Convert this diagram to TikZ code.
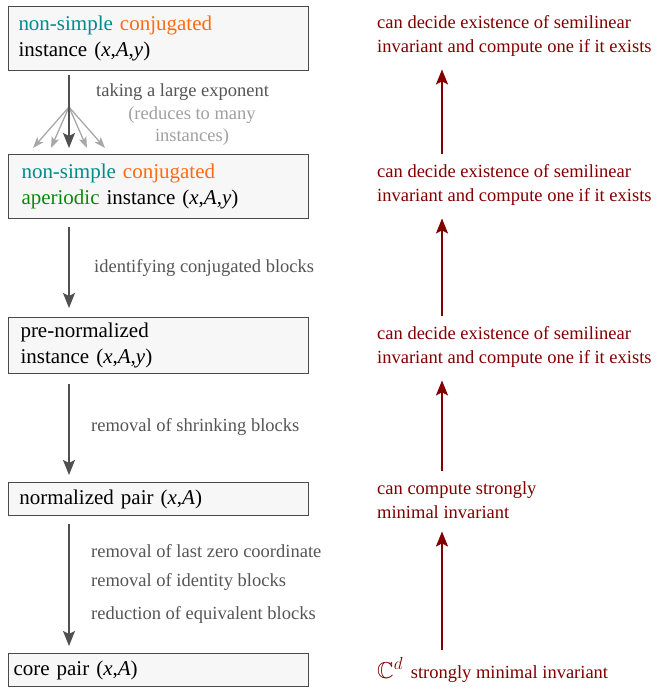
\documentclass[tikz,border=0pt]{standalone}
\usepackage{amssymb}
\usepackage{fontspec}
\setmainfont{Liberation Serif}
\usetikzlibrary{arrows.meta}
\definecolor{boxfill}{HTML}{F7F7F7}
\definecolor{boxdraw}{HTML}{4A4A4A}
\definecolor{arrgray}{HTML}{505050}
\definecolor{fangray}{HTML}{A8A8A8}
\definecolor{lblgray}{HTML}{555555}
\definecolor{lbllight}{HTML}{A0A0A0}
\definecolor{dred}{HTML}{800000}
\definecolor{cteal}{HTML}{008B8B}
\definecolor{corange}{HTML}{FF6A13}
\definecolor{cgreen}{HTML}{0A8A0A}
\tikzset{
  box/.style={draw=boxdraw, fill=boxfill, line width=1pt, anchor=north west,
    minimum width=294pt, text width=280pt, align=left, inner xsep=10pt, inner ysep=0pt,
    font=\fontsize{21}{26.5}\selectfont},
  arr/.style={draw=arrgray, line width=1.5pt, -{Stealth[length=15pt,width=12pt,inset=3pt]}},
  fan/.style={draw=fangray, line width=1.3pt, -{Stealth[length=11pt,width=8pt,inset=2.5pt]}},
  rarr/.style={draw=dred, line width=1.5pt, -{Stealth[length=15pt,width=12pt,inset=3pt]}},
  lbl/.style={text=lblgray, anchor=west, inner sep=0pt, font=\fontsize{18.5}{22}\selectfont},
  rtxt/.style={text=dred, anchor=west, align=left, inner sep=0pt, font=\fontsize{18.5}{23.5}\selectfont},
}
\newcommand{\xAy}{(\textit{x},\textit{A},\textit{y})}
\newcommand{\xA}{(\textit{x},\textit{A})}
\begin{document}
\begin{tikzpicture}[x=1pt,y=-1pt]
\useasboundingbox (0,0) rectangle (659,689);
% boxes
\node[box, minimum height=64pt] (b1) at (8,6) {\textcolor{cteal}{non-simple} \textcolor{corange}{conjugated}\\instance \xAy};
\node[box, minimum height=64pt, inner xsep=13pt, text width=274pt] (b2) at (8,154) {\textcolor{cteal}{non-simple} \textcolor{corange}{conjugated}\\\textcolor{cgreen}{aperiodic} instance \xAy};
\node[box, minimum height=56pt, inner xsep=12pt, text width=276pt] (b3) at (8,317) {pre-normalized\\instance \xAy};
\node[box, minimum height=33pt, inner xsep=11pt, text width=278pt] (b4) at (8,482) {normalized pair \xA};
\node[box, minimum height=33pt, inner xsep=5pt, text width=290pt] (b5) at (8,653) {core pair \xA};
% left arrows
\coordinate (lx) at (69,0);
\coordinate (fo) at (69,107);
\coordinate (f1) at (33,148);
\coordinate (f2) at (51,148);
\coordinate (f3) at (87,148);
\coordinate (f4) at (105,148);
\draw[fan] (fo) -- (f1);
\draw[fan] (fo) -- (f2);
\draw[fan] (fo) -- (f3);
\draw[fan] (fo) -- (f4);
\draw[arr, shorten <=4pt, shorten >=6pt] (b1.south -| lx) -- (b2.north -| lx);
\draw[arr, shorten <=8pt, shorten >=9pt] (b2.south -| lx) -- (b3.north -| lx);
\draw[arr, shorten <=10pt, shorten >=7pt] (b3.south -| lx) -- (b4.north -| lx);
\draw[arr, shorten <=8pt, shorten >=7pt] (b4.south -| lx) -- (b5.north -| lx);
% labels
\node[lbl] (l1) at (96,92) {taking a large exponent};
\node[text=lbllight, align=center, inner sep=0pt, font=\fontsize{18.5}{22}\selectfont] (l1b) at (192,126) {(reduces to many\\instances)};
\node[lbl] (l2) at (94,268) {identifying conjugated blocks};
\node[lbl] (l3) at (91,427) {removal of shrinking blocks};
\node[lbl] (l4) at (91,551) {removal of last zero coordinate};
\node[lbl] (l5) at (91,582) {removal of identity blocks};
\node[lbl] (l6) at (91,615) {reduction of equivalent blocks};
% right column
\node[rtxt] (r1) at (377,36) {can decide existence of semilinear\\invariant and compute one if it exists};
\node[rtxt] (r2) at (377,185) {can decide existence of semilinear\\invariant and compute one if it exists};
\node[rtxt] (r3) at (377,347) {can decide existence of semilinear\\invariant and compute one if it exists};
\node[rtxt] (r4) at (377,500) {can compute strongly\\minimal invariant};
\node[rtxt] (r5) at (377,670) {{\fontsize{23}{24}\selectfont$\mathbb{C}^{d}$}\, strongly minimal invariant};
\coordinate (rx) at (442,0);
\draw[rarr, shorten <=11pt, shorten >=13pt] (r2.north -| rx) -- (r1.south -| rx);
\draw[rarr, shorten <=11pt, shorten >=13pt] (r3.north -| rx) -- (r2.south -| rx);
\draw[rarr, shorten <=11pt, shorten >=13pt] (r4.north -| rx) -- (r3.south -| rx);
\draw[rarr, shorten <=7pt, shorten >=13pt] (r5.north -| rx) -- (r4.south -| rx);
\end{tikzpicture}
\end{document}
